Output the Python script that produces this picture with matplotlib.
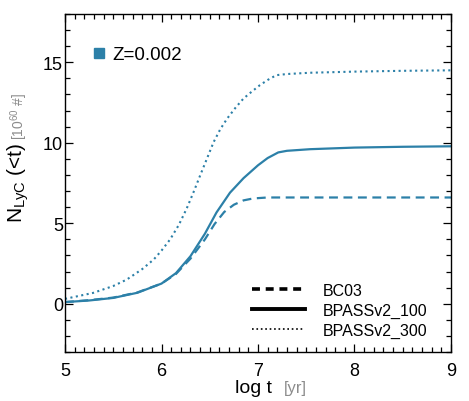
import matplotlib
matplotlib.use("Agg")
import matplotlib.pyplot as plt
from matplotlib.lines import Line2D
from matplotlib.ticker import MultipleLocator

plt.rcParams['font.family'] = ['Liberation Sans', 'DejaVu Sans']
plt.rcParams['mathtext.fontset'] = 'custom'
plt.rcParams['mathtext.rm'] = 'Liberation Sans'
plt.rcParams['mathtext.it'] = 'Liberation Sans'

blue = '#2c80a8'
grey = '#8c8c8c'

# values
logt_bc03 = [5.0, 5.25, 5.5, 5.75, 6.0, 6.15, 6.3, 6.45, 6.55, 6.65, 6.75, 6.85, 6.95, 7.1, 7.5, 8.0, 8.5, 9.0]
n_bc03 = [0.1, 0.22, 0.38, 0.7, 1.25, 1.85, 2.8, 4.0, 4.95, 5.7, 6.15, 6.42, 6.54, 6.6, 6.6, 6.6, 6.6, 6.6]

logt_bp100 = [5.0, 5.25, 5.5, 5.75, 6.0, 6.15, 6.3, 6.45, 6.57, 6.71, 6.85, 7.0, 7.1, 7.21, 7.3, 7.54, 8.0, 8.5, 9.0]
n_bp100 = [0.1, 0.2, 0.36, 0.68, 1.25, 1.9, 2.95, 4.35, 5.67, 6.9, 7.8, 8.6, 9.05, 9.4, 9.5, 9.6, 9.7, 9.75, 9.78]

logt_bp300 = [5.0, 5.29, 5.5, 5.64, 5.8, 5.92, 6.0, 6.09, 6.18, 6.26, 6.33, 6.4, 6.47, 6.54, 6.61, 6.68,
              6.77, 6.85, 6.94, 7.02, 7.1, 7.19, 7.3, 7.54, 8.0, 8.5, 9.0]
n_bp300 = [0.3, 0.67, 1.1, 1.5, 2.15, 2.75, 3.3, 4.0, 4.9, 5.9, 6.9, 7.96, 9.0, 10.04, 10.85, 11.5,
           12.2, 12.75, 13.2, 13.58, 13.9, 14.2, 14.27, 14.35, 14.42, 14.47, 14.5]

xticks = [5, 6, 7, 8, 9]
yticks = [0, 5, 10, 15]

fig = plt.figure(figsize=(4.69, 4.02), dpi=100)
ax = fig.add_axes([0.1386, 0.1219, 0.823, 0.8408])

ax.plot(logt_bc03, n_bc03, color=blue, lw=1.6, dashes=(4, 2.5))
ax.plot(logt_bp100, n_bp100, color=blue, lw=1.6)
ax.plot(logt_bp300, n_bp300, color=blue, lw=1.5, ls=':')

ax.set_xlim(5, 9)
ax.set_ylim(-3, 18)
ax.set_xticks(xticks)
ax.set_yticks(yticks)
ax.xaxis.set_minor_locator(MultipleLocator(0.1))
ax.yaxis.set_minor_locator(MultipleLocator(1))
ax.tick_params(which='both', direction='in', top=True, right=True, labelsize=13, width=0.9)
ax.tick_params(which='major', length=6)
ax.tick_params(which='minor', length=3.5)
ax.tick_params(axis='x', pad=7)
ax.tick_params(axis='y', pad=1.5)
for s in ax.spines.values():
    s.set_linewidth(1.0)

handles = [Line2D([], [], color='k', lw=2.6, dashes=(2.2, 1.6)),
           Line2D([], [], color='k', lw=2.8),
           Line2D([], [], color='k', lw=1.2, ls=':')]
leg = ax.legend(handles, ['BC03', 'BPASSv2_100', 'BPASSv2_300'], loc='lower right',
                frameon=False, fontsize=11.5, handlelength=3.3, labelspacing=0.3,
                handletextpad=1.1, bbox_to_anchor=(0.975, 0.0))
ax.add_artist(leg)

zh = [Line2D([], [], color=blue, marker='s', ls='', markersize=6.5)]
ax.legend(zh, ['Z=0.002'], loc='upper left', frameon=False, fontsize=13.5,
          handlelength=0.8, handletextpad=0.3, bbox_to_anchor=(0.025, 0.955))

# axis labels built from pieces (black + grey units)
yl = fig.text(0.049, 0.445, r'N$_{\mathregular{LyC}}$ (<t)', fontsize=15, rotation=90,
              rotation_mode='anchor', ha='left', va='baseline')
xl = fig.text(0.501, 0.022, 'log t', fontsize=14, ha='left', va='baseline')
fig.canvas.draw()
r = fig.canvas.get_renderer()
inv = fig.transFigure.inverted()
bb = inv.transform(yl.get_window_extent(r))
fig.text(0.051, bb[1][1] + 0.008, r'[10$^{60}$ #]', fontsize=10, color=grey, rotation=90,
         rotation_mode='anchor', ha='left', va='baseline')
bb = inv.transform(xl.get_window_extent(r))
fig.text(bb[1][0] + 0.026, 0.022, '[yr]', fontsize=12, color=grey, ha='left', va='baseline')

fig.savefig('out.png', dpi=100)
